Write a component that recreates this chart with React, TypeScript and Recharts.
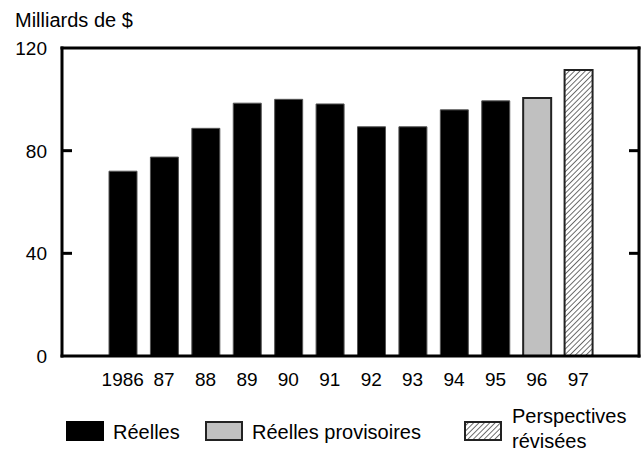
import { BarChart, Bar, XAxis, YAxis, Cell } from "recharts";

// Milliards de $, 1986-97
const years = ["1986", "87", "88", "89", "90", "91", "92", "93", "94", "95", "96", "97"];
const values = [72, 77.5, 88.7, 98.5, 100, 98.2, 89.3, 89.3, 95.9, 99.4, 100.5, 111.4];
const kinds = [
  "reelles", "reelles", "reelles", "reelles", "reelles", "reelles",
  "reelles", "reelles", "reelles", "reelles", "provisoires", "perspectives",
];
const yTicks = [0, 40, 80, 120];
const innerTicks = [40, 80];

const FONT = '"Liberation Sans", Arial, Helvetica, sans-serif';

const CHART_W = 644;
const CHART_H = 453;
const MARGIN = { top: 47, right: 4, bottom: 67, left: 0 };
const Y_AXIS_W = 62;
const RIGHT_AXIS_W = 1;
const PLOT_W = CHART_W - MARGIN.left - MARGIN.right - Y_AXIS_W - RIGHT_AXIS_W;

const fills: Record<string, string> = {
  reelles: "#000000",
  provisoires: "#c0c0c0",
  perspectives: "url(#hatch)",
};
const strokes: Record<string, string> = {
  reelles: "#555555",
  provisoires: "#222222",
  perspectives: "#222222",
};

const data = years.map((year, i) => ({ year, value: values[i], kind: kinds[i] }));

const frameLine = { stroke: "#000", strokeWidth: 3, strokeLinecap: "square" as const };

// left axis: label outside, small ticks pointing into the plot on both sides
const LeftTick = (props: any) => {
  const { x, y, payload } = props;
  const axisX = x + 15;
  const rightX = axisX + PLOT_W;
  return (
    <g>
      <text x={x} y={y} dy="0.36em" textAnchor="end" fontSize={19} fontFamily={FONT} fill="#000">
        {payload.value}
      </text>
      {innerTicks.includes(payload.value) && (
        <g>
          <line x1={axisX} x2={axisX + 10} y1={y} y2={y} stroke="#000" strokeWidth={3} />
          <line x1={rightX - 10} x2={rightX} y1={y} y2={y} stroke="#000" strokeWidth={3} />
        </g>
      )}
    </g>
  );
};

const Swatch = ({ left, kind }: { left: number; kind: string }) => (
  <svg
    width={38}
    height={20}
    style={{ position: "absolute", left, top: 421, overflow: "visible" }}
  >
    <rect
      x={kind === "reelles" ? 0 : 1}
      y={kind === "reelles" ? 0 : 1}
      width={kind === "reelles" ? 38 : 36}
      height={kind === "reelles" ? 20 : 18}
      fill={fills[kind]}
      stroke={kind === "reelles" ? "none" : "#222"}
      strokeWidth={2}
    />
  </svg>
);

const labelStyle = {
  position: "absolute" as const,
  fontFamily: FONT,
  fontSize: 20,
  lineHeight: "20px",
  color: "#000",
  whiteSpace: "nowrap" as const,
};

export default function App() {
  return (
    <div
      style={{
        position: "fixed",
        left: 0,
        top: 0,
        width: CHART_W,
        height: CHART_H,
        background: "#fff",
        fontFamily: FONT,
      }}
    >
      <svg width={0} height={0} style={{ position: "absolute" }}>
        <defs>
          <pattern
            id="hatch"
            patternUnits="userSpaceOnUse"
            width={3.8}
            height={3.8}
            patternTransform="rotate(45)"
          >
            <rect width={3.8} height={3.8} fill="#fff" />
            <line x1={0} y1={0} x2={0} y2={3.8} stroke="#222" strokeWidth={1.3} />
          </pattern>
        </defs>
      </svg>

      <div style={{ ...labelStyle, left: 15, top: 10 }}>Milliards de $</div>

      <BarChart
        width={CHART_W}
        height={CHART_H}
        data={data}
        margin={MARGIN}
        style={{ position: "absolute", left: 0, top: 0 }}
      >
        <XAxis
          dataKey="year"
          padding={{ left: 40, right: 40 }}
          axisLine={frameLine}
          tickLine={false}
          tickMargin={11}
          interval={0}
          tick={{ fontSize: 19, fill: "#000", fontFamily: FONT }}
        />
        <XAxis
          xAxisId="top"
          orientation="top"
          dataKey="year"
          height={1}
          axisLine={frameLine}
          tickLine={false}
          tick={false}
        />
        <YAxis
          domain={[0, 120]}
          ticks={yTicks}
          interval={0}
          width={Y_AXIS_W}
          axisLine={frameLine}
          tickLine={false}
          tickSize={6}
          tickMargin={9}
          tick={(p: any) => <LeftTick {...p} />}
        />
        <YAxis
          yAxisId="right"
          orientation="right"
          domain={[0, 120]}
          width={RIGHT_AXIS_W}
          axisLine={frameLine}
          tickLine={false}
          tick={false}
        />
        <Bar dataKey="value" barSize={28} isAnimationActive={false}>
          {data.map((d, i) => (
            <Cell
              key={`cell-${i}`}
              fill={fills[d.kind]}
              stroke={strokes[d.kind]}
              strokeWidth={d.kind === "reelles" ? 1 : 2}
            />
          ))}
        </Bar>
      </BarChart>

      {/* Legend */}
      <Swatch left={66} kind="reelles" />
      <div style={{ ...labelStyle, left: 113, top: 422 }}>Réelles</div>
      <Swatch left={205} kind="provisoires" />
      <div style={{ ...labelStyle, left: 252, top: 422 }}>Réelles provisoires</div>
      <Swatch left={464} kind="perspectives" />
      <div style={{ ...labelStyle, left: 512, top: 406 }}>Perspectives</div>
      <div style={{ ...labelStyle, left: 512, top: 431 }}>révisées</div>
    </div>
  );
}
